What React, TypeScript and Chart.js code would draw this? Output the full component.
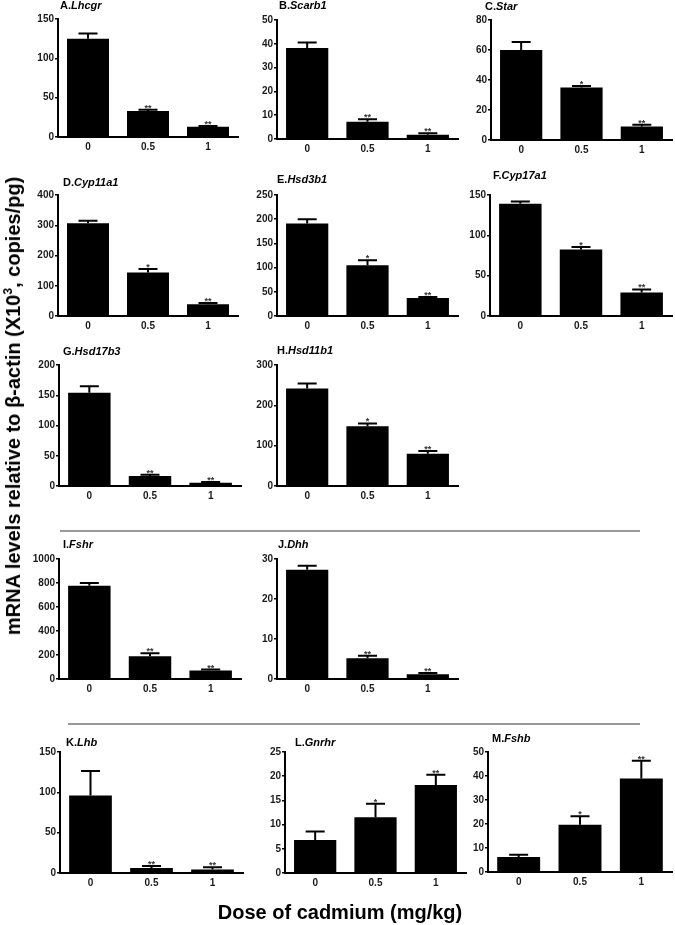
import React, { useEffect, useRef } from "react";
import { Chart, registerables } from "chart.js";

Chart.register(...registerables);

const FONT = "'Liberation Sans', Arial, Helvetica, sans-serif";

// Categories (dose of cadmium, mg/kg)
const doses = ["0", "0.5", "1"];

// Means, SEM (upper error) and significance marks, per gene
const lhcgrMean = [125, 33, 13];
const lhcgrErr = [6.5, 1.5, 1];
const lhcgrSig = ["", "**", "**"];

const scarb1Mean = [38.2, 7.2, 1.8];
const scarb1Err = [2.3, 1.1, 0.6];
const scarb1Sig = ["", "**", "**"];

const starMean = [60, 35, 9];
const starErr = [5.3, 1, 1.1];
const starSig = ["", "*", "**"];

const cyp11a1Mean = [307, 144, 39];
const cyp11a1Err = [8, 11, 4];
const cyp11a1Sig = ["", "*", "**"];

const hsd3b1Mean = [191, 105, 37];
const hsd3b1Err = [9, 10, 2.5];
const hsd3b1Sig = ["", "*", "**"];

const cyp17a1Mean = [139, 82.5, 29];
const cyp17a1Err = [3, 3, 4];
const cyp17a1Sig = ["", "*", "**"];

const hsd17b3Mean = [154, 16.5, 5.5];
const hsd17b3Err = [11, 2.2, 1.2];
const hsd17b3Sig = ["", "**", "**"];

const hsd11b1Mean = [242, 148, 80];
const hsd11b1Err = [12, 7, 7];
const hsd11b1Sig = ["", "*", "**"];

const fshrMean = [778, 189, 70];
const fshrErr = [22, 25, 9];
const fshrSig = ["", "**", "**"];

const dhhMean = [27.3, 5.2, 1.2];
const dhhErr = [1, 0.6, 0.3];
const dhhSig = ["", "**", "**"];

const lhbMean = [96, 6.2, 4.2];
const lhbErr = [30.5, 2.5, 2.8];
const lhbSig = ["", "**", "**"];

const gnrhrMean = [6.8, 11.5, 18.2];
const gnrhrErr = [1.8, 2.8, 2.1];
const gnrhrSig = ["", "*", "**"];

const fshbMean = [6.3, 19.7, 39];
const fshbErr = [0.9, 3.5, 7.4];
const fshbSig = ["", "*", "**"];

// Axis maxima and tick steps
const yMax = [150, 50, 80, 400, 250, 150, 200, 300, 1000, 30, 150, 25, 50];
const yStep = [50, 10, 20, 100, 50, 50, 50, 100, 200, 10, 50, 5, 10];

type Panel = {
  letter: string;
  gene: string;
  mean: number[];
  err: number[];
  sig: string[];
  axisX: number;
  right: number;
  top: number;
  bottom: number;
  titleX: number;
  titleY: number;
};

const panels: Panel[] = [
  { letter: "A", gene: "Lhcgr", mean: lhcgrMean, err: lhcgrErr, sig: lhcgrSig, axisX: 58, right: 238, top: 19, bottom: 137, titleX: 60, titleY: 6 },
  { letter: "B", gene: "Scarb1", mean: scarb1Mean, err: scarb1Err, sig: scarb1Sig, axisX: 277, right: 458, top: 20, bottom: 139, titleX: 279, titleY: 6 },
  { letter: "C", gene: "Star", mean: starMean, err: starErr, sig: starSig, axisX: 491, right: 672, top: 20, bottom: 140, titleX: 485, titleY: 7 },
  { letter: "D", gene: "Cyp11a1", mean: cyp11a1Mean, err: cyp11a1Err, sig: cyp11a1Sig, axisX: 58, right: 238, top: 195, bottom: 316, titleX: 63, titleY: 183 },
  { letter: "E", gene: "Hsd3b1", mean: hsd3b1Mean, err: hsd3b1Err, sig: hsd3b1Sig, axisX: 277, right: 458, top: 195, bottom: 316, titleX: 277, titleY: 180 },
  { letter: "F", gene: "Cyp17a1", mean: cyp17a1Mean, err: cyp17a1Err, sig: cyp17a1Sig, axisX: 490, right: 672, top: 195, bottom: 316, titleX: 493, titleY: 176 },
  { letter: "G", gene: "Hsd17b3", mean: hsd17b3Mean, err: hsd17b3Err, sig: hsd17b3Sig, axisX: 59, right: 241, top: 365, bottom: 486, titleX: 63, titleY: 352 },
  { letter: "H", gene: "Hsd11b1", mean: hsd11b1Mean, err: hsd11b1Err, sig: hsd11b1Sig, axisX: 277, right: 458, top: 365, bottom: 486, titleX: 277, titleY: 351 },
  { letter: "I", gene: "Fshr", mean: fshrMean, err: fshrErr, sig: fshrSig, axisX: 59, right: 241, top: 559, bottom: 679, titleX: 63, titleY: 545 },
  { letter: "J", gene: "Dhh", mean: dhhMean, err: dhhErr, sig: dhhSig, axisX: 277, right: 458, top: 559, bottom: 679, titleX: 278, titleY: 545 },
  { letter: "K", gene: "Lhb", mean: lhbMean, err: lhbErr, sig: lhbSig, axisX: 60, right: 243, top: 752, bottom: 873, titleX: 66, titleY: 743 },
  { letter: "L", gene: "Gnrhr", mean: gnrhrMean, err: gnrhrErr, sig: gnrhrSig, axisX: 285, right: 466, top: 752, bottom: 873, titleX: 295, titleY: 743 },
  { letter: "M", gene: "Fshb", mean: fshbMean, err: fshbErr, sig: fshbSig, axisX: 488, right: 672, top: 752, bottom: 872, titleX: 492, titleY: 739 },
];

const Y_W = 36;
const X_H = 24;
const PAD_R = 3;

function geometry(p: Panel) {
  const left = p.axisX - Y_W;
  const top = p.titleY - 10;
  const width = p.right + PAD_R - left;
  const height = p.bottom + X_H - top;
  return { left, top, width, height };
}

function makePlugin(p: Panel, g: { left: number; top: number }) {
  return {
    id: "panelDecor" + p.letter,
    afterDatasetsDraw(chart: any) {
      const ctx = chart.ctx;
      const meta = chart.getDatasetMeta(0);
      const yScale = chart.scales.y;
      meta.data.forEach((bar: any, i: number) => {
        const x = bar.x;
        const yTop = bar.y;
        const yErr = yScale.getPixelForValue(p.mean[i] + p.err[i]);
        ctx.save();
        ctx.strokeStyle = "#000";
        ctx.lineWidth = 2;
        ctx.beginPath();
        ctx.moveTo(x, yTop);
        ctx.lineTo(x, yErr);
        ctx.moveTo(x - 9.5, yErr);
        ctx.lineTo(x + 9.5, yErr);
        ctx.stroke();
        if (p.sig[i]) {
          ctx.fillStyle = "#333";
          ctx.font = `bold 9px ${FONT}`;
          ctx.textAlign = "center";
          ctx.textBaseline = "alphabetic";
          ctx.fillText(p.sig[i], x, yErr + 1);
        }
        ctx.restore();
      });
    },
    afterDraw(chart: any) {
      const ctx = chart.ctx;
      ctx.save();
      ctx.fillStyle = "#000";
      ctx.textBaseline = "middle";
      ctx.textAlign = "left";
      const tx = p.titleX - g.left;
      const ty = p.titleY - g.top;
      ctx.font = `bold 11px ${FONT}`;
      const pre = p.letter + ".";
      ctx.fillText(pre, tx, ty);
      const w = ctx.measureText(pre).width;
      ctx.font = `italic bold 11px ${FONT}`;
      ctx.fillText(p.gene, tx + w, ty);
      ctx.restore();
    },
  };
}

function PanelChart({ p, idx }: { p: Panel; idx: number }) {
  const ref = useRef<HTMLCanvasElement | null>(null);
  const g = geometry(p);
  useEffect(() => {
    if (!ref.current) return;
    const chart = new Chart(ref.current, {
      type: "bar",
      data: {
        labels: doses,
        datasets: [
          {
            data: p.mean,
            backgroundColor: "#000",
            borderWidth: 0,
            barPercentage: 0.7,
            categoryPercentage: 1.0,
          },
        ],
      },
      options: {
        responsive: false,
        animation: false,
        devicePixelRatio: 1,
        layout: { padding: { left: 0, right: PAD_R, top: p.top - g.top, bottom: 0 } },
        plugins: {
          legend: { display: false },
          tooltip: { enabled: false },
          title: { display: false },
        },
        scales: {
          x: {
            type: "category",
            offset: true,
            grid: { display: false, drawTicks: false },
            border: { display: true, color: "#000", width: 2 },
            ticks: {
              color: "#1a1a1a",
              font: { family: FONT, size: 10, weight: "bold" },
              padding: 4,
              autoSkip: false,
              maxRotation: 0,
            },
            afterFit: (s: any) => {
              s.height = X_H;
            },
          },
          y: {
            min: 0,
            max: yMax[idx],
            grid: { drawOnChartArea: false, drawTicks: true, tickLength: 3, color: "#000", lineWidth: 1.5 },
            border: { display: true, color: "#000", width: 2 },
            ticks: {
              stepSize: yStep[idx],
              color: "#1a1a1a",
              font: { family: FONT, size: 10, weight: "bold" },
              padding: 1,
              callback: (v: any) => String(v),
            },
            afterFit: (s: any) => {
              s.width = Y_W;
            },
          },
        },
      },
      plugins: [makePlugin(p, g)],
    } as any);
    return () => chart.destroy();
  }, []);
  return (
    <canvas
      ref={ref}
      width={g.width}
      height={g.height}
      style={{ position: "absolute", left: g.left, top: g.top, width: g.width, height: g.height }}
    />
  );
}

export default function App() {
  return (
    <div
      style={{
        position: "absolute",
        left: 0,
        top: 0,
        width: 675,
        height: 925,
        background: "#fff",
        overflow: "hidden",
        fontFamily: FONT,
      }}
    >
      {panels.map((p, i) => (
        <PanelChart key={p.letter} p={p} idx={i} />
      ))}
      <div style={{ position: "absolute", left: 60, top: 530, width: 580, height: 1.5, background: "#999" }} />
      <div style={{ position: "absolute", left: 68, top: 723, width: 572, height: 1.5, background: "#999" }} />
      <div
        style={{
          position: "absolute",
          left: 13,
          top: 406,
          transform: "translate(-50%, -50%) rotate(-90deg)",
          whiteSpace: "nowrap",
          fontWeight: "bold",
          fontSize: 20,
          color: "#000",
          lineHeight: "24px",
        }}
      >
        mRNA levels relative to β-actin (X10<sup style={{ fontSize: 12, verticalAlign: "super", lineHeight: 0 }}>3</sup>, copies/pg)
      </div>
      <div
        style={{
          position: "absolute",
          left: 340,
          top: 912,
          transform: "translate(-50%, -50%)",
          whiteSpace: "nowrap",
          fontWeight: "bold",
          fontSize: 20,
          color: "#000",
          lineHeight: "24px",
        }}
      >
        Dose of cadmium (mg/kg)
      </div>
    </div>
  );
}
